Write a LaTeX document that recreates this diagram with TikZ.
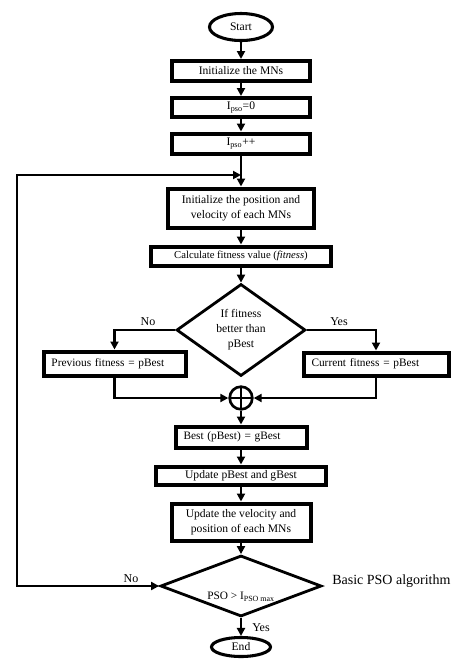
\documentclass[tikz,border=0pt]{standalone}
\usepackage{fontspec}
\setmainfont{Liberation Serif}
\usetikzlibrary{shapes.geometric,arrows.meta}

\begin{document}
\begin{tikzpicture}[x=0.75pt,y=0.75pt,yscale=-1,xscale=1,
	box/.style={draw,line width=3pt,rectangle,inner sep=0pt,font=\fontsize{8.7}{11}\selectfont,align=center},
	leftbox/.style={box,align=left,inner xsep=6pt,font=\fontsize{8.5}{11}\selectfont},
	term/.style={draw,line width=2.3pt,ellipse,inner sep=0pt,font=\fontsize{8.7}{11}\selectfont},
	decide/.style={draw,line width=2.1pt,diamond,inner sep=0pt,font=\fontsize{8.7}{11.25}\selectfont,align=center},
	link/.style={line width=1.8pt,-{Triangle[length=6pt,width=6pt]}},
	tag/.style={font=\fontsize{9}{11}\selectfont,inner sep=0.75pt}]
	\useasboundingbox (0,0) rectangle (474,669);

	\draw (241,27) node [term,minimum width=47.25pt,minimum height=20.25pt] (start) {Start};
	\draw (241,71) node [box,minimum width=103.5pt,minimum height=15pt] (init) {Initialize the MNs};
	\draw (241,107.5) node [box,minimum width=103.5pt,minimum height=14.25pt] (iter0) {I\textsubscript{pso}=0};
	\draw (241,143.5) node [box,minimum width=103.5pt,minimum height=15pt] (iterinc) {I\textsubscript{pso}++};
	\coordinate (loop) at (241,175);
	\draw (241,208) node [box,minimum width=109.5pt,minimum height=29.25pt] (initpos) {Initialize the position and\\velocity of each MNs};
	\draw (241,256) node [box,minimum width=135pt,minimum height=14.25pt,font=\fontsize{8}{10}\selectfont] (calc) {Calculate fitness value (\textit{fitness})};
	\draw (241,330) node [decide,minimum width=96.75pt,minimum height=69pt] (check) {If fitness\\better than\\pBest};
	\draw (114.5,363.5) node [leftbox,text width=94.5pt,minimum height=18pt] (prev) {Previous fitness = pBest};
	\draw (376,364) node [leftbox,text width=96.75pt,minimum height=17.25pt] (curr) {Current fitness = pBest};
	\draw (241,398) node [circle,draw,line width=2pt,minimum size=17pt,inner sep=0pt,
		path picture={\draw [line width=2pt] (path picture bounding box.north) -- (path picture bounding box.south) (path picture bounding box.west) -- (path picture bounding box.east);}] (join) {};
	\draw (241,437) node [leftbox,text width=86.25pt,minimum height=15.75pt] (best) {Best (pBest) = gBest};
	\draw (241,475.5) node [box,minimum width=127.5pt,minimum height=13.5pt] (upd) {Update pBest and gBest};
	\draw (241,522) node [box,minimum width=104.25pt,minimum height=27.75pt] (updvel) {Update the velocity and\\position of each MNs};
	\draw (241,586) node [decide,minimum width=120.75pt,minimum height=45.75pt] (stop) {};
	\draw (241,597) node [font=\fontsize{8.5}{11}\selectfont,inner sep=0pt] (stoptxt) {PSO > I\textsubscript{PSO max}};
	\draw (241,647) node [term,minimum width=44.25pt,minimum height=14.25pt] (finish) {End};

	\draw (148,322) node [tag] (nolab) {No};
	\draw (339,322) node [tag] (yeslab) {Yes};
	\draw (131,579) node [tag] (nolabb) {No};
	\draw (261,628) node [tag] (yeslabb) {Yes};
	\draw (332,581) node [anchor=west,inner sep=0pt,font=\fontsize{10.5}{12}\selectfont] (title) {Basic PSO algorithm};

	\draw [link] (start) -- (init);
	\draw [link] (init) -- (iter0);
	\draw [link] (iter0) -- (iterinc);
	\draw [link] (iterinc) -- (initpos);
	\draw [link] (initpos) -- (calc);
	\draw [link] (calc) -- (check);
	\draw [link] (check.west) -| (prev);
	\draw [link] (check.east) -| (curr);
	\draw [link] (prev) |- (join);
	\draw [link] (curr) |- (join);
	\draw [link] (join) -- (best);
	\draw [link] (best) -- (upd);
	\draw [link] (upd) -- (updvel);
	\draw [link] (updvel) -- (stop);
	\draw [link] (stop) -- (finish);
	\draw [line width=1.8pt,{Triangle[length=6pt,width=6pt]}-{Triangle[length=6pt,width=6pt]}] (stop.west) -- ++(-142,0) |- (loop);
\end{tikzpicture}
\end{document}
